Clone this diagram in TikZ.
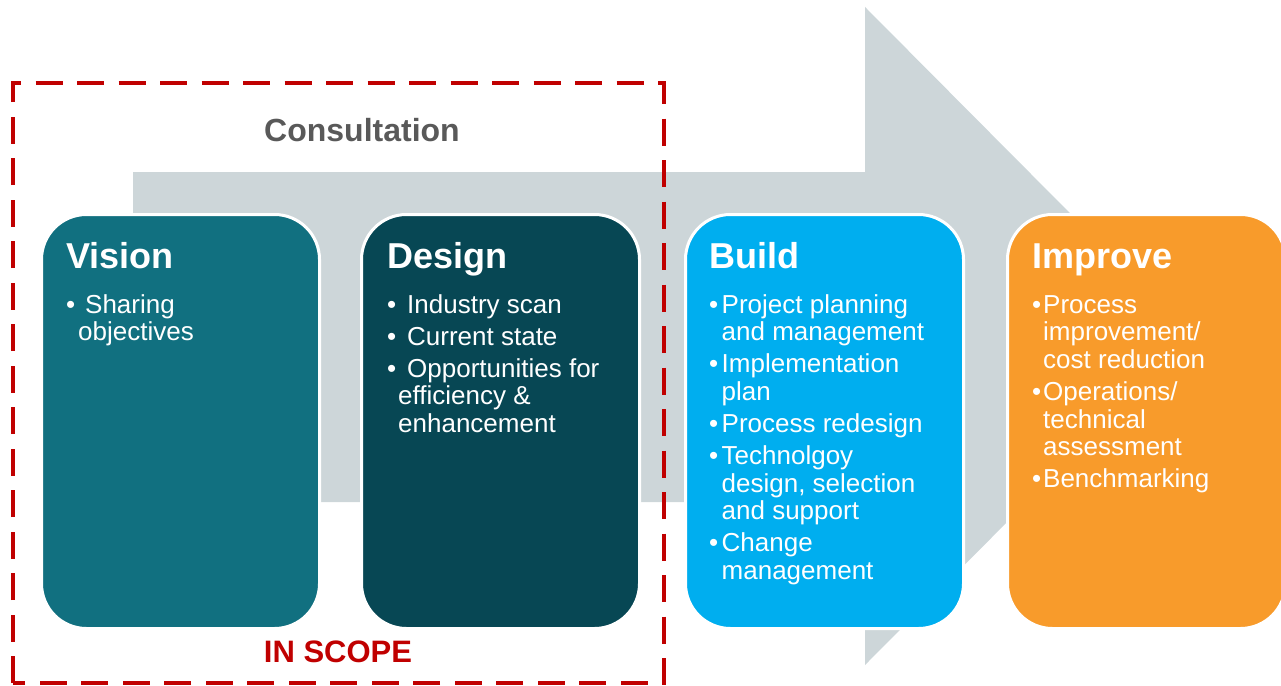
\documentclass[tikz,border=0pt]{standalone}
\usepackage{fontspec}
\setmainfont{Liberation Sans}
\usetikzlibrary{positioning}

\definecolor{visionteal}{HTML}{117080}
\definecolor{designteal}{HTML}{074754}
\definecolor{buildblue}{HTML}{00AEEF}
\definecolor{improveorange}{HTML}{F89B2B}
\definecolor{arrowgrey}{HTML}{CDD6D9}
\definecolor{scopered}{HTML}{C00000}
\definecolor{labelgrey}{HTML}{595959}

% bullet list inside a stage: #1 bullet box, #2 hanging indent, #3 items
\newcommand{\stagelist}[3]{%
  \parbox[t]{320pt}{\parskip=4.3pt
    \everypar{\hangindent=#2\hangafter=1}%
    \def\itm{\par\makebox[#1][l]{\textbullet}}%
    #3}}

\tikzset{
  stage/.style={draw=white, line width=3pt, rounded corners=45pt,
    minimum width=278pt, minimum height=414pt, inner sep=0pt, anchor=north west},
  stagetitle/.style={anchor=base west, inner sep=0pt, text=white,
    font=\fontsize{36}{40}\selectfont\bfseries},
  stageitems/.style={anchor=base west, inner sep=0pt, text=white,
    font=\fontsize{26}{27.7}\selectfont},
}

\begin{document}
\begin{tikzpicture}[x=1pt, y=-1pt]
  \useasboundingbox (0,0) rectangle (1281,685);

  % Big arrow behind the stages
  \fill[arrowgrey] (133,172) -- (865,172) -- (865,7) -- (1192,336)
    -- (865,665) -- (865,502) -- (133,502) -- cycle;

  % Stages
  \node[stage, fill=visionteal]    (vision)  at (40,213)   {};
  \node[stage, fill=designteal]    (design)  at (360,213)  {};
  \node[stage, fill=buildblue]     (build)   at (684,213)  {};
  \node[stage, fill=improveorange] (improve) at (1006,213) {};

  \node[stagetitle] (visionhead)  at (66,268)   {Vision};
  \node[stagetitle] (designhead)  at (387,268)  {Design};
  \node[stagetitle] (buildhead)   at (709,268)  {Build};
  \node[stagetitle] (improvehead) at (1032,268) {Improve};

  \node[stageitems] (visionlist) at (66,313)
    {\stagelist{19pt}{12pt}{\itm Sharing\\objectives}};
  \node[stageitems] (designlist) at (387,313)
    {\stagelist{20pt}{11pt}{\itm Industry scan
      \itm Current state
      \itm Opportunities for\\efficiency \&\\enhancement}};
  \node[stageitems] (buildlist) at (709,313)
    {\stagelist{12.5pt}{12.5pt}{\itm Project planning\\and management
      \itm Implementation\\plan
      \itm Process redesign
      \itm Technolgoy\\design, selection\\and support
      \itm Change\\management}};
  \node[stageitems] (improvelist) at (1032,313)
    {\stagelist{11pt}{11pt}{\itm Process\\improvement/\\cost reduction
      \itm Operations/\\technical\\assessment
      \itm Benchmarking}};

  % Scope frame
  \draw[scopered, line width=4.5pt, dash pattern=on 27pt off 14.5pt]
    (13,683) -- (13,83) -- (664,83) -- (664,683) -- cycle;

  \node[anchor=base, inner sep=0pt, text=labelgrey,
    font=\fontsize{32}{36}\selectfont\bfseries] (consult) at (362,141) {Consultation};
  \node[anchor=base, inner sep=0pt, text=scopered,
    font=\fontsize{31}{35}\selectfont\bfseries] (scope) at (338,662) {IN SCOPE};

\end{tikzpicture}
\end{document}
